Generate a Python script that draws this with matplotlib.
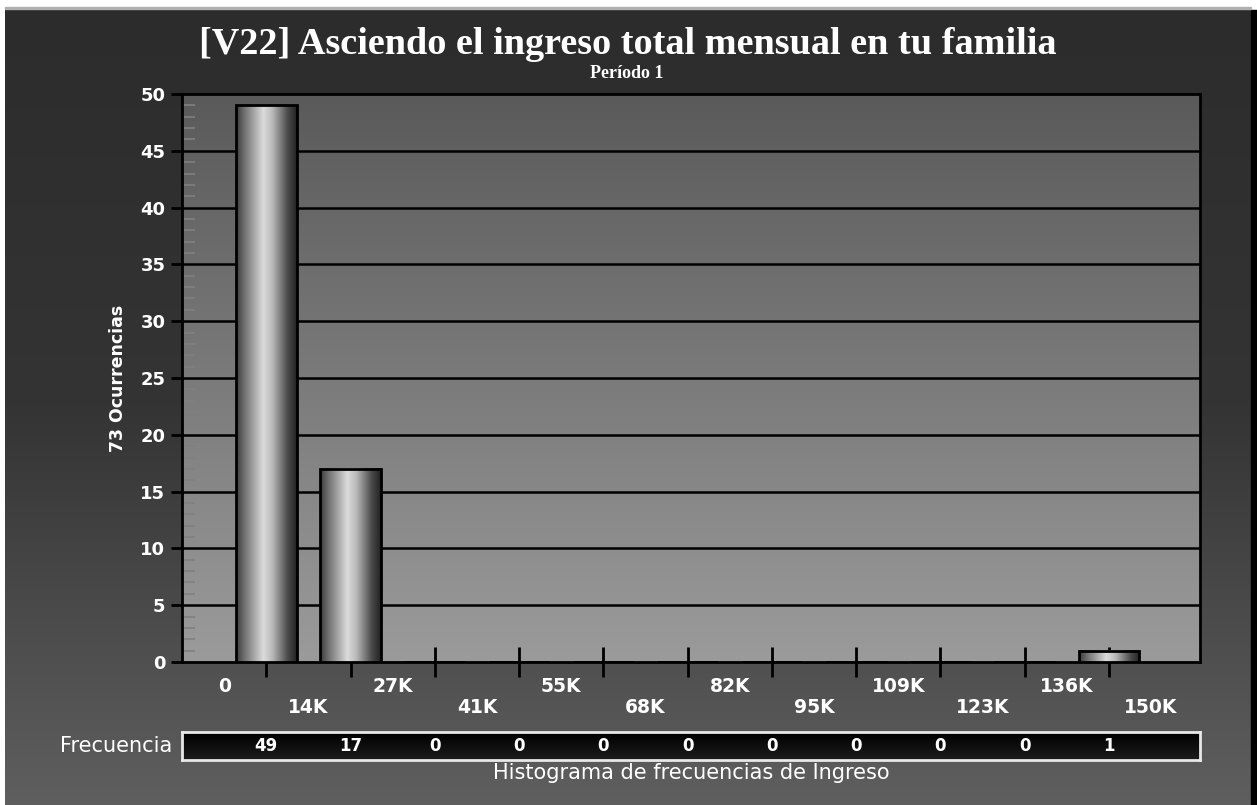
from matplotlib import pyplot as plt
from matplotlib.colors import LinearSegmentedColormap
from matplotlib.patches import Rectangle
import matplotlib.transforms as mtransforms
import numpy as np

# datos del histograma (miles de pesos)
edge_labels = ['0', '14K', '27K', '41K', '55K', '68K', '82K', '95K',
               '109K', '123K', '136K', '150K']
counts = [49, 17, 0, 0, 0, 0, 0, 0, 0, 0, 1]
income_max = 150
title = '[V22] Asciendo el ingreso total mensual en tu familia'
subtitle = 'Período 1'
ylabel = '73 Ocurrencias'
row_label = 'Frecuencia'
caption = 'Histograma de frecuencias de Ingreso'

W, H = 1257, 805
fig = plt.figure(figsize=(W / 100, H / 100), dpi=100)
fig.patch.set_facecolor('white')

def px(x0, y0, x1, y1):
    # caja en pixeles (origen arriba-izquierda) -> fracciones de figura
    return [x0 / W, 1 - y1 / H, (x1 - x0) / W, (y1 - y0) / H]

# fondo con degradado
bg = fig.add_axes(px(5, 8, 1251, 805), zorder=-5)
bg_cmap = LinearSegmentedColormap.from_list('bg', ['#2c2c2c', '#343434', '#5f5f5f'])
bg.imshow(np.linspace(0, 1, 256).reshape(-1, 1), cmap=bg_cmap, aspect='auto',
          extent=(0, 1, 0, 1), origin='upper')
bg.axis('off')
fig.patches.append(Rectangle((1251 / W, 0), 6 / W, 1 - 10 / H, transform=fig.transFigure,
                             color='black', zorder=-4))
fig.patches.append(Rectangle((5 / W, 1 - 9 / H), 1246 / W, 1.5 / H, transform=fig.transFigure,
                             color='#b0b0b0', zorder=-4))

edges = np.linspace(0, income_max, len(counts) + 1)
binw = edges[1] - edges[0]
centers = edges[:-1] + binw / 2
xlim = (edges[0] - 0.5 * binw, edges[-1] + 0.58 * binw)

ax = fig.add_axes(px(182, 94, 1200, 662))

plot_cmap = LinearSegmentedColormap.from_list('plot', ['#5a5a5a', '#9b9b9b'])
ax.imshow(np.linspace(0, 1, 256).reshape(-1, 1), cmap=plot_cmap, aspect='auto',
          extent=(0, 1, 0, 1), origin='upper', transform=ax.transAxes, zorder=0)

for yv in range(5, 50, 5):
    ax.axhline(yv, color='black', lw=1.8, zorder=1)

bar_cmap = LinearSegmentedColormap.from_list(
    'cyl', [(0, '#3a3a3a'), (0.12, '#6a6a6a'), (0.45, '#dcdcdc'), (0.6, '#b8b8b8'),
            (0.85, '#4a4a4a'), (1, '#222222')])
bars = ax.bar(centers, counts, width=0.72 * binw, facecolor='none',
              edgecolor='black', linewidth=2, zorder=4)
grad = np.linspace(0, 1, 256).reshape(1, -1)
for b in bars:
    if b.get_height() <= 0:
        continue
    x0, w, h = b.get_x(), b.get_width(), b.get_height()
    ax.imshow(grad, cmap=bar_cmap, aspect='auto', extent=(x0, x0 + w, 0, h),
              zorder=3, interpolation='bilinear')
ax.set_xlim(xlim)
ax.set_ylim(0, 50)

for s in ax.spines.values():
    s.set_color('black')
    s.set_linewidth(2)

ax.set_yticks(range(0, 51, 5))
ax.set_yticks(range(0, 51, 1), minor=True)
ax.tick_params(axis='y', which='major', direction='out', length=8, width=2,
               color='black', labelcolor='white', labelsize=13, pad=4)
ax.tick_params(axis='y', which='minor', direction='in', length=9, width=1.2,
               color='#808080')
for t in ax.get_yticklabels():
    t.set_fontweight('bold')

ax.set_xticks(centers)
ax.set_xticklabels([])
ax.tick_params(axis='x', which='major', direction='inout', length=22, width=2,
               color='black')

# etiquetas en los bordes de clase, alternando dos renglones
trans = mtransforms.blended_transform_factory(ax.transData, ax.transAxes)
for i, (xe, lab) in enumerate(zip(edges, edge_labels)):
    dy = -24 if i % 2 == 0 else -45
    ax.annotate(lab, (xe, 0), xycoords=trans, xytext=(0, dy * 0.72),
                textcoords='offset points', ha='center', va='center',
                color='white', fontsize=13.5, fontweight='bold', annotation_clip=False)

fig.text(628 / W, 1 - 45 / H, title, ha='center', va='center', color='white',
         fontsize=27.5, fontweight='bold', family='Liberation Serif')
fig.text(627 / W, 1 - 74 / H, subtitle, ha='center', va='center', color='white',
         fontsize=13, fontweight='bold', family='Liberation Serif')
fig.text(118 / W, 1 - 378 / H, ylabel, ha='center', va='center', rotation=90,
         color='white', fontsize=12.5, fontweight='bold')

# tabla de frecuencias
tab = fig.add_axes(px(182, 732, 1200, 760))
tab_cmap = LinearSegmentedColormap.from_list('tab', ['#000000', '#1c1c1c'])
tab.imshow(np.linspace(0, 1, 64).reshape(-1, 1), cmap=tab_cmap, aspect='auto',
           extent=(0, 1, 0, 1), origin='upper', transform=tab.transAxes)
tab.set_xlim(xlim)
tab.set_ylim(0, 1)
for s in tab.spines.values():
    s.set_color('#e8e8e8')
    s.set_linewidth(2)
tab.set_xticks([])
tab.set_yticks([])
for xc, c in zip(centers, counts):
    tab.text(xc, 0.5, str(c), ha='center', va='center', color='white',
             fontsize=12, fontweight='bold')
fig.text(172 / W, 1 - 746 / H, row_label, ha='right', va='center', color='white',
         fontsize=15)
fig.text(691 / W, 1 - 773 / H, caption, ha='center', va='center', color='white',
         fontsize=15)

fig.savefig('out.png', dpi=100, facecolor=fig.get_facecolor())
